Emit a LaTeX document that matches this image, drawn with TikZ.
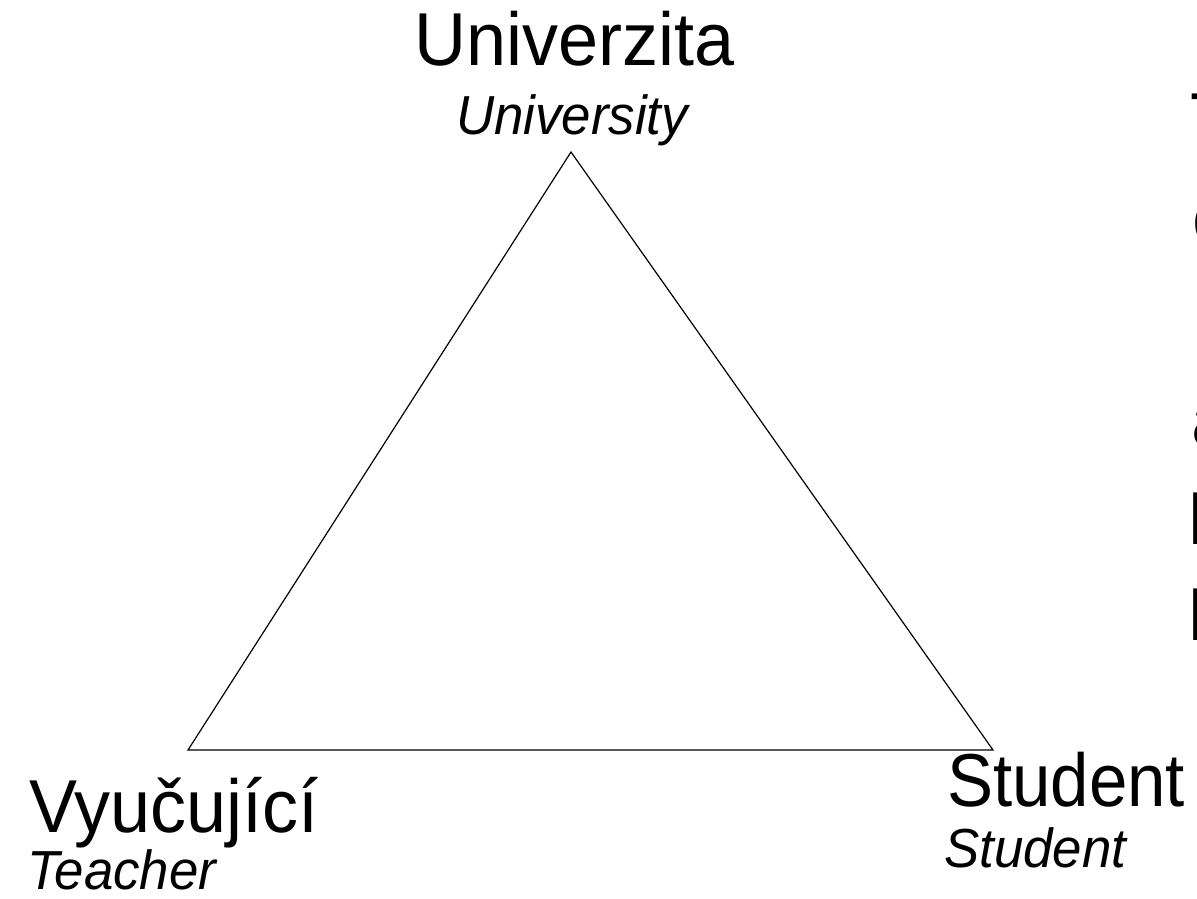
\documentclass[tikz,border=0pt]{standalone}
\usepackage{fontspec}
\usepackage{graphicx}
\setmainfont{Liberation Sans}

\newcommand{\narrowtxt}[1]{\scalebox{0.96}[1]{#1}}

\begin{document}
\begin{tikzpicture}[x=1pt,y=-1pt,
big/.style={inner sep=0pt,font=\fontsize{75}{80}\selectfont},
small/.style={inner sep=0pt,font=\fontsize{55}{60}\selectfont\itshape}]
\useasboundingbox (0,0) rectangle (1197,898);
\coordinate (top) at (571,152);
\coordinate (left) at (188,750);
\coordinate (right) at (993,750);
\draw[line width=1.2pt] (top)--(left)--(right)--cycle;
\node[big,anchor=base] (univ) at (575,65) {\narrowtxt{Univerzita}};
\node[small,anchor=base] (univen) at (572,134) {\narrowtxt{University}};
\node[big,anchor=base west] (vyuc) at (29,832) {\narrowtxt{Vyučující}};
\node[small,anchor=base west] (teach) at (27,889) {\narrowtxt{Teacher}};
\node[big,anchor=base west] (stud) at (947,806) {\scalebox{0.92}[1]{Student}};
\node[small,anchor=base west] (studen) at (944,867) {\narrowtxt{Student}};
\node[big,anchor=base west] (r1) at (1190,145) {T};
\node[big,anchor=base west] (r2) at (1192,243) {c};
\node[big,anchor=base west] (r3) at (1191,445) {a};
\node[big,anchor=base west] (r4) at (1187,544) {P};
\node[big,anchor=base west] (r5) at (1187,640) {P};
\end{tikzpicture}
\end{document}
